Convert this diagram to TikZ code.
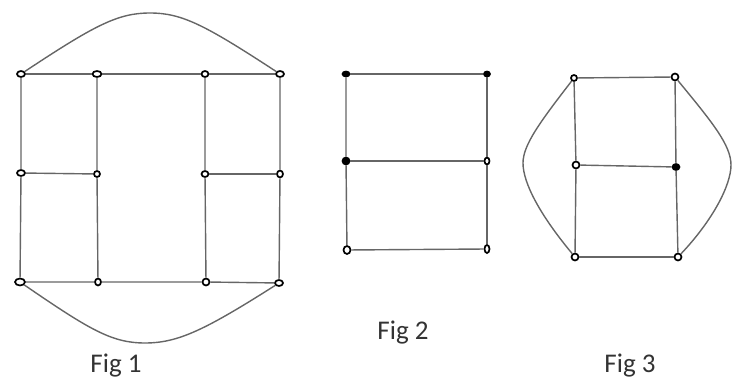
\documentclass[tikz,border=0pt]{standalone}
\usepackage{fontspec}
\setmainfont{Carlito}
\usetikzlibrary{shapes.geometric}
\begin{document}
\begin{tikzpicture}[x=1pt,y=-1pt,
  edge/.style={draw=black!60,line width=1.4pt},
  vtx/.style={ellipse,draw=black,line width=1.7pt,fill=white,minimum width=8pt,minimum height=6pt,inner sep=0pt},
  vtxf/.style={vtx,fill=black},
  lbl/.style={font=\fontsize{27}{30}\selectfont,text=black!80,anchor=base}]
\useasboundingbox (0,0) rectangle (732,379);
% ---- Fig 1 ----
\node[vtx] (a1) at (21,74) {};
\node[vtx,minimum width=9pt] (a2) at (97,74) {};
\node[vtx,minimum width=7pt] (a3) at (205,74) {};
\node[vtx] (a4) at (280,74) {};
\node[vtx] (b1) at (21,173) {};
\node[vtx,minimum width=6pt] (b2) at (97,174) {};
\node[vtx,minimum width=7pt] (b3) at (205,174) {};
\node[vtx,minimum width=6pt,minimum height=7pt] (b4) at (280,174) {};
\node[vtx,minimum width=10pt,minimum height=7pt] (c1) at (20,282) {};
\node[vtx,minimum width=6pt,minimum height=7pt] (c2) at (98,282) {};
\node[vtx,minimum width=7pt,minimum height=7pt] (c3) at (206,282) {};
\node[vtx] (c4) at (279,283) {};
\path[edge] (a1) -- (a2) -- (a3) -- (a4);
\path[edge] (c1) -- (c2) -- (c3) -- (c4);
\path[edge] (b1) -- (b2);
\path[edge] (b3) -- (b4);
\path[edge] (a1) -- (b1) -- (c1);
\path[edge] (a2) -- (b2) -- (c2);
\path[edge] (a3) -- (b3) -- (c3);
\path[edge] (a4) -- (b4) -- (c4);
\path[edge] (a1) .. controls (95,25) and (118,13) .. (150,13) .. controls (182,13) and (205,25) .. (a4);
\path[edge] (c1) .. controls (90,330) and (112,343) .. (145,343) .. controls (178,343) and (205,330) .. (c4);
\node[lbl] (l1) at (116,373) {Fig 1};
% ---- Fig 2 ----
\node[vtxf,minimum width=7pt,minimum height=5pt] (d1) at (346,74) {};
\node[vtxf,minimum width=6pt,minimum height=5pt] (d2) at (487,74) {};
\node[vtxf,minimum width=7pt,minimum height=7pt] (e1) at (346,161) {};
\node[vtx,minimum width=5pt,minimum height=7pt] (e2) at (487,161) {};
\node[vtx,minimum width=7pt,minimum height=8pt] (f1) at (347,250) {};
\node[vtx,minimum width=5pt,minimum height=8pt] (f2) at (487,249) {};
\path[edge] (d1) -- (d2);
\path[edge] (e1) -- (e2);
\path[edge] (f1) -- (f2);
\path[edge] (d1) -- (e1) -- (f1);
\path[edge] (d2) -- (e2) -- (f2);
\node[lbl] (l2) at (403,340) {Fig 2};
% ---- Fig 3 ----
\node[vtx,minimum width=6pt,minimum height=6pt] (g1) at (574,78) {};
\node[vtx,minimum width=7pt,minimum height=7pt] (g2) at (675,77) {};
\node[vtx,minimum width=7pt,minimum height=7pt] (h1) at (576,165) {};
\node[vtxf,minimum width=7pt,minimum height=6pt] (h2) at (676,167) {};
\node[vtx,minimum width=7pt,minimum height=7pt] (k1) at (575,257) {};
\node[vtx,minimum width=7pt,minimum height=7pt] (k2) at (678,257) {};
\path[edge] (g1) -- (g2);
\path[edge] (h1) -- (h2);
\path[edge] (k1) -- (k2);
\path[edge] (g1) -- (h1) -- (k1);
\path[edge] (g2) -- (h2) -- (k2);
\path[edge] (g1) .. controls (540,122) and (523,145) .. (523,163) .. controls (523,183) and (540,215) .. (k1);
\path[edge] (g2) .. controls (712,122) and (731,145) .. (731,165) .. controls (731,185) and (713,220) .. (k2);
\node[lbl] (l3) at (630,373) {Fig 3};
\end{tikzpicture}
\end{document}
